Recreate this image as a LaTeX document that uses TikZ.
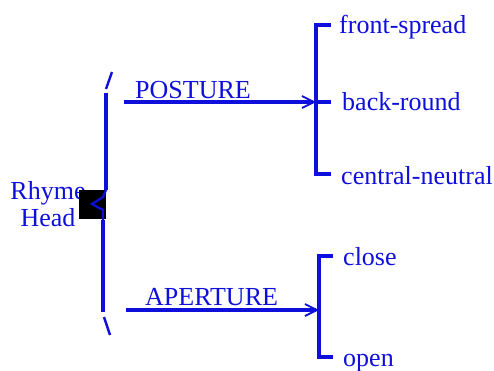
\documentclass[tikz,border=0pt]{standalone}
\usepackage{fontspec}
\setmainfont{Liberation Serif}
\usetikzlibrary{arrows.meta}
\definecolor{sysblue}{RGB}{15,15,220}
\newcommand{\feat}{\fontsize{26}{29}\selectfont}

\begin{document}
\begin{tikzpicture}[x=1pt,y=-1pt,
    sys/.style={draw=sysblue,line width=3.2pt},
    realize/.style={sys,-{Straight Barb[length=12pt,width=12pt,line width=1.8pt]}},
    term/.style={text=sysblue,anchor=base west,inner sep=0pt,font=\feat}]
  \useasboundingbox (0,0) rectangle (494,370);

    % entry condition and its brace
    \node[text=sysblue,font=\feat,align=center,inner sep=0pt] (rhyme) at (48,204) {Rhyme\\[-2pt]Head};
    \fill[black] (79,190) rectangle (106,219);
    \draw[sys,line width=2.4pt] (112,72) -- (106,89);
    \draw[sys] (106,93) -- (106,190);
    \draw[sys] (103,220) -- (103,312);
    \draw[sys,line width=2.4pt] (104,317) -- (110,335);
    \draw[draw=sysblue,line width=2.2pt] (106,190) -- (103,197) -- (92,204) -- (103,210) -- (103,220);

    % POSTURE system
    \coordinate (p0) at (124,102);
    \coordinate (p1) at (316,102);
    \draw[realize] (p0) -- (p1);
    \node[term] (posture) at (135,98) {POSTURE};
    \draw[sys] (331,25) -- (316,25) -- (316,174) -- (331,174);
    \draw[sys] (p1) -- (331,102);
    \node[term] (front) at (339,33) {front-spread};
    \node[term] (back) at (342,110) {back-round};
    \node[term] (central) at (341,184) {central-neutral};

    % APERTURE system
    \coordinate (a0) at (126,310);
    \coordinate (a1) at (319,310);
    \draw[realize] (a0) -- (a1);
    \node[term] (aperture) at (145,305) {APERTURE};
    \draw[sys] (333,256) -- (319,256) -- (319,357) -- (333,357);
    \node[term] (close) at (343,265) {close};
    \node[term] (open) at (343,366) {open};
\end{tikzpicture}
\end{document}
